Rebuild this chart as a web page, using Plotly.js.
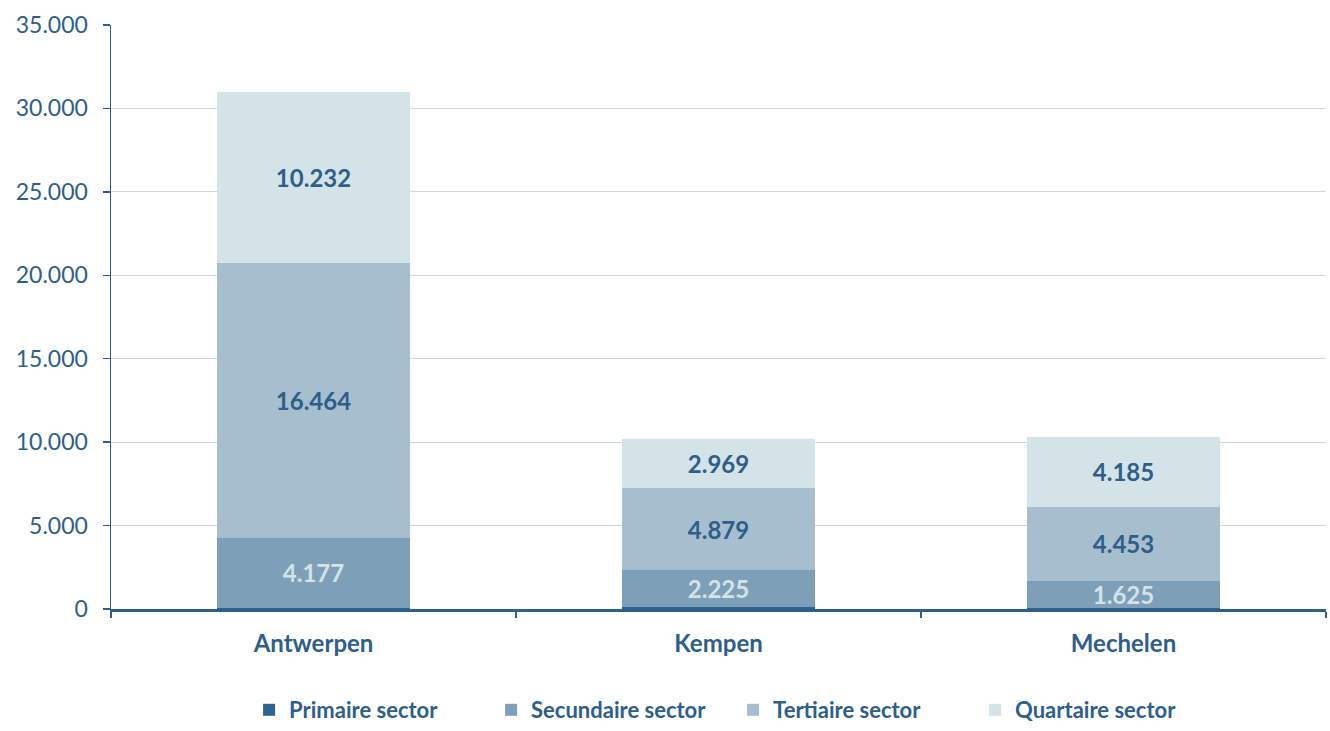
<!DOCTYPE html>
<html>
<head>
<meta charset="utf-8">
<script src="https://cdn.plot.ly/plotly-3.0.1.min.js"></script>
<style>html,body{margin:0;padding:0;background:#fff;}#chart{width:1330px;height:731px;}</style>
</head>
<body>
<div id="chart"></div>
<script>
const regions = ["Antwerpen", "Kempen", "Mechelen"];
const primair = [90, 130, 50];
const secundair = [4177, 2225, 1625];
const tertiair = [16464, 4879, 4453];
const quartair = [10232, 2969, 4185];
const seriesNames = ["Primaire sector", "Secundaire sector", "Tertiaire sector", "Quartaire sector"];
const yTicks = [0, 5000, 10000, 15000, 20000, 25000, 30000, 35000];

const colors = ["#2F6491", "#7DA0B8", "#A7BECE", "#D3E3E8"];
const dark = "#2E5E8A";
const fontFam = "Lato, 'Open Sans', sans-serif";

function tr(vals, i, showText, textColor) {
  return {
    type: "bar",
    x: regions,
    y: vals,
    name: seriesNames[i],
    marker: {color: colors[i], line: {width: 0}},
    width: 0.477,
    texttemplate: showText ? "%{y:,d}" : "",
    textposition: showText ? "inside" : "none",
    insidetextanchor: "middle",
    constraintext: "none",
    textangle: 0,
    textfont: {family: fontFam, size: 24, color: textColor, weight: "bold"},
    hoverinfo: "none",
    cliponaxis: false
  };
}

const data = [
  tr(primair, 0, false, dark),
  tr(secundair, 1, true, "#D3E3E8"),
  tr(tertiair, 2, true, dark),
  tr(quartair, 3, true, dark)
];

const layout = {
  width: 1330, height: 731,
  margin: {l: 111, r: 4, t: 25, b: 122},
  barmode: "stack",
  separators: ",.",
  paper_bgcolor: "#fff",
  plot_bgcolor: "#fff",
  font: {family: fontFam, color: dark},
  uniformtext: {mode: false},
  xaxis: {
    type: "category",
    automargin: false,
    tickson: "boundaries",
    ticks: "outside",
    ticklen: 6,
    tickwidth: 1.5,
    tickcolor: dark,
    showline: true,
    linecolor: dark,
    linewidth: 2.5,
    showgrid: false,
    tickfont: {family: fontFam, size: 24, color: dark, weight: "bold"},
    ticklabelstandoff: 12
  },
  yaxis: {
    range: [0, 35000],
    automargin: false,
    tickvals: yTicks,
    tickformat: ",d",
    ticks: "outside",
    ticklen: 7,
    tickwidth: 1.5,
    tickcolor: dark,
    showline: true,
    linecolor: dark,
    linewidth: 1.5,
    showgrid: true,
    gridcolor: "#C9D8E2",
    gridwidth: 1,
    zeroline: false,
    tickfont: {family: fontFam, size: 23, color: dark},
    ticklabelstandoff: 10,
    fixedrange: true
  },
  legend: {
    orientation: "h",
    x: 0.512, xanchor: "center", xref: "paper",
    y: -0.012, yanchor: "bottom", yref: "container",
    traceorder: "normal",
    font: {family: fontFam, size: 22, color: dark, weight: "bold"},
    entrywidth: 197,
    itemwidth: 30
  },
  showlegend: true
};

Plotly.newPlot("chart", data, layout, {staticPlot: true, displayModeBar: false});
</script>
</body>
</html>
